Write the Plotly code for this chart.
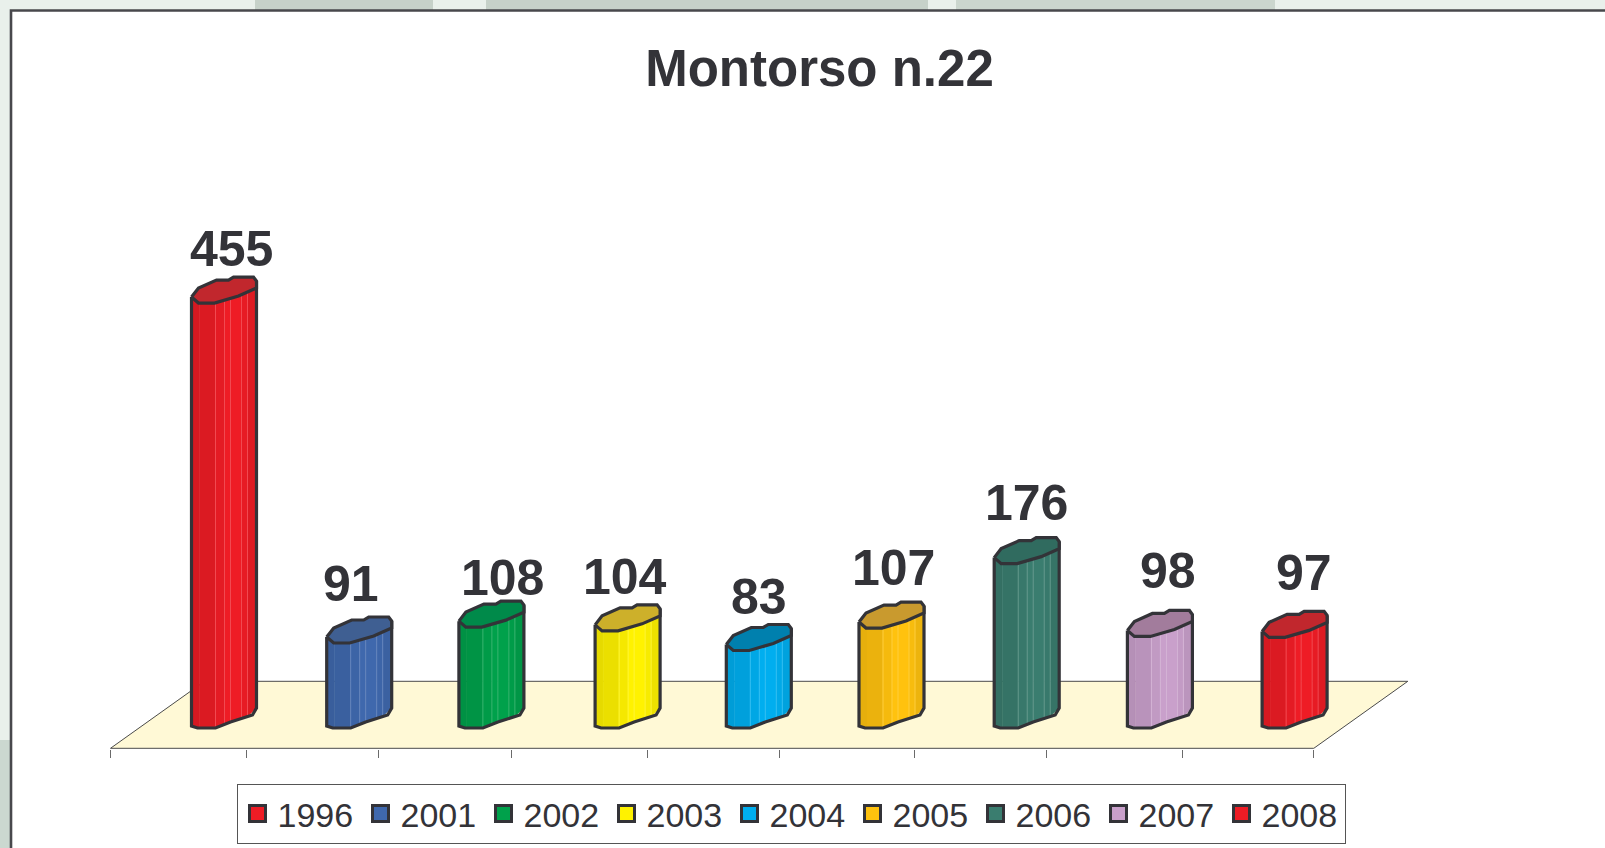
import numpy as np
import plotly.graph_objects as go

# ---- data ----
years = ["1996", "2001", "2002", "2003", "2004", "2005", "2006", "2007", "2008"]
values = [455, 91, 108, 104, 83, 107, 176, 98, 97]
side_colors = ["#ee1c25", "#3f68ad", "#00a14b", "#fff200", "#00aeef", "#ffc20e", "#3a7d6f", "#c9a0cb", "#ee1c25"]
top_colors = ["#c1272d", "#3f5f92", "#008a4a", "#cdb02a", "#0080ae", "#c99a2e", "#306b5f", "#a27c9c", "#c1272d"]
title_text = "Montorso n.22"

# ---- layout constants ----
W, H = 1605, 848
INK = "#333338"
PLOT_L, PLOT_R, PLOT_T, PLOT_B = 11, 1605, 10, 749
PX_X = 133.7          # pixels per category
PX_Y = 0.934          # pixels per value unit
TICK0 = 110.5         # pixel of the first category boundary
BASE = 728            # pixel of value 0
x_range = [(PLOT_L - TICK0) / PX_X, (PLOT_R - TICK0) / PX_X]
y_range = [(BASE - PLOT_B) / PX_Y, (BASE - PLOT_T) / PX_Y]

BAR_LEFT = 81 / PX_X  # bar left edge inside its category
BAR_NUDGE = [0, 1.5, 0, 2.5, 0, -1, 0.5, 0, 1]      # pixel snapping of the original
TICK_NUDGE = [0, 2.5, 1, -0.5, 2, 0.5, 2, 0.5, 2.5, 0]


def dx(px):
    return px / PX_X


def dy(px):
    return px / PX_Y


# cross-section of the cylinder, as pixel offsets from left edge / lowest front point
TOP_SHAPE = [(0, -6), (7, -15), (25, -23), (37, -23), (42, -26), (62, -26), (65, -22),
             (65, -15), (47, -7), (23, 0), (7, 0), (0, -6)]
BOTTOM_X = [0, 6, 24, 39, 61, 65]
BOTTOM_Y = [-2, 0, 0, -6, -13, -20]
LOWER_TOP_X = [0, 7, 23, 47, 65]
LOWER_TOP_Y = [-6, 0, 0, -7, -15]
STRIP_EDGES = [0, 8, 24, 33, 39, 50, 56, 65]
STRIP_SHADE = [0.90, 0.92, 0.96, 1.0, 1.0, 0.97, 0.93]
HIGHLIGHTS = [24, 33, 39, 50, 56]


def shade(hex_color, f):
    rgb = [int(hex_color[k:k + 2], 16) for k in (1, 3, 5)]
    return "rgb(%d,%d,%d)" % tuple(int(round(c * f)) for c in rgb)


def tint(hex_color, f):
    rgb = [int(hex_color[k:k + 2], 16) for k in (1, 3, 5)]
    return "rgb(%d,%d,%d)" % tuple(int(round(c + (255 - c) * f)) for c in rgb)


fig = go.Figure()

# floor of the 3D chart
FLOOR_FRONT = (BASE - 748.3) / PX_Y
FLOOR_BACK = (BASE - 681.3) / PX_Y
SKEW = 94 / PX_X
n = len(years)
fig.add_trace(go.Scatter(
    x=[0, n, n + SKEW, SKEW, 0], y=[FLOOR_FRONT, FLOOR_FRONT, FLOOR_BACK, FLOOR_BACK, FLOOR_FRONT],
    mode="lines", fill="toself", fillcolor="#fff9d6",
    line=dict(color="#4a4a4a", width=1), hoverinfo="skip", showlegend=False))

for i, (year, v, col, topc) in enumerate(zip(years, values, side_colors, top_colors)):
    left = i + BAR_LEFT + dx(BAR_NUDGE[i])
    # shaded body strips
    for a, b, f in zip(STRIP_EDGES[:-1], STRIP_EDGES[1:], STRIP_SHADE):
        xs = [a, b, b, a, a]
        up = [np.interp(a, LOWER_TOP_X, LOWER_TOP_Y), np.interp(b, LOWER_TOP_X, LOWER_TOP_Y)]
        lo = [np.interp(a, BOTTOM_X, BOTTOM_Y), np.interp(b, BOTTOM_X, BOTTOM_Y)]
        fig.add_trace(go.Scatter(
            x=[left + dx(p) for p in xs],
            y=[v + dy(-up[0]), v + dy(-up[1]), dy(-lo[1]), dy(-lo[0]), v + dy(-up[0])],
            mode="lines", fill="toself", fillcolor=shade(col, f),
            line=dict(color=shade(col, f), width=0.5), hoverinfo="skip", showlegend=False))
    # thin light lines on the body
    for h in HIGHLIGHTS:
        fig.add_trace(go.Scatter(
            x=[left + dx(h)] * 2,
            y=[v + dy(-np.interp(h, LOWER_TOP_X, LOWER_TOP_Y)), dy(-np.interp(h, BOTTOM_X, BOTTOM_Y))],
            mode="lines", line=dict(color=tint(col, 0.2), width=1), hoverinfo="skip", showlegend=False))
    # body outline
    ox = [0, 0] + BOTTOM_X + [65]
    oy = [v + dy(6), dy(2)] + [dy(-b) for b in BOTTOM_Y] + [v + dy(22)]
    fig.add_trace(go.Scatter(
        x=[left + dx(p) for p in ox], y=oy,
        mode="lines", line=dict(color=INK, width=3.2),
        hoverinfo="skip", showlegend=False))
    # top cap
    fig.add_trace(go.Scatter(
        x=[left + dx(p[0]) for p in TOP_SHAPE], y=[v + dy(-p[1]) for p in TOP_SHAPE],
        mode="lines", fill="toself", fillcolor=topc,
        line=dict(color=INK, width=3.2), name=year,
        hovertemplate=year + ": %{text}<extra></extra>", text=[v] * len(TOP_SHAPE), showlegend=False))

# legend entries (square swatches)
for year, col in zip(years, side_colors):
    fig.add_trace(go.Scatter(
        x=[None], y=[None], mode="markers", name=year,
        marker=dict(symbol="square", size=16, color=col, line=dict(color=INK, width=3))))

# value labels, placed as in the reference (hand-dragged)
LABEL_DX = [7, -7, 11, 0, 0, 1, 0, 8, 10]
LABEL_DY = [54, 59, 49, 54, 53, 60, 61, 65, 64]
annotations = [
    dict(x=i + BAR_LEFT + dx(32.5), y=v, xref="x", yref="y", text=str(v), showarrow=False,
         xanchor="center", yanchor="middle", xshift=LABEL_DX[i], yshift=LABEL_DY[i],
         font=dict(family="Liberation Sans", size=50, color=INK, weight="bold"))
    for i, v in enumerate(values)
]

# page background blocks and the white frame (paper coordinates)
pw, ph = PLOT_R - PLOT_L, PLOT_B - PLOT_T


def px_x(p):
    return (p - PLOT_L) / pw


def px_y(p):
    return (PLOT_B - p) / ph


shapes = []
for x0, y0, x1, y1, c in [
    (0, 740, 10, 848, "#cbd8d0"),
    (255, 0, 433, 10, "#c6d1c9"),
    (486, 0, 928, 10, "#c6d1c9"),
    (956, 0, 1275, 10, "#cbd6ce"),
]:
    shapes.append(dict(type="rect", xref="paper", yref="paper", layer="below",
                       x0=px_x(x0), x1=px_x(x1), y0=px_y(y1), y1=px_y(y0),
                       fillcolor=c, line=dict(width=0)))
shapes.append(dict(type="rect", xref="paper", yref="paper", layer="below",
                   x0=px_x(11), x1=px_x(1640), y0=px_y(880), y1=px_y(10.5),
                   fillcolor="white", line=dict(color="#48484c", width=2.6)))

fig.update_layout(
    width=W, height=H,
    margin=dict(l=PLOT_L, r=W - PLOT_R, t=PLOT_T, b=H - PLOT_B, autoexpand=False, pad=0),
    paper_bgcolor="#e9f0eb",
    plot_bgcolor="rgba(0,0,0,0)",
    title=dict(text=title_text, x=819.5 / W, xanchor="center", y=1 - 68.6 / H, yanchor="middle",
               font=dict(family="Liberation Sans", size=51, color=INK, weight="bold")),
    xaxis=dict(range=x_range, tickmode="array",
               tickvals=[k + dx(TICK_NUDGE[k]) for k in range(n + 1)], ticks="outside",
               ticklen=8, tickwidth=1, tickcolor="#6a6a6a", showticklabels=False,
               showgrid=False, zeroline=False, showline=False, fixedrange=True),
    yaxis=dict(range=y_range, showticklabels=False, ticks="", showgrid=False, zeroline=False,
               showline=False, fixedrange=True),
    legend=dict(orientation="h", x=px_x(236.5), y=px_y(784), xanchor="left", yanchor="top",
                bgcolor="white", bordercolor="#555", borderwidth=1,
                font=dict(family="Liberation Sans", size=34, color=INK),
                entrywidth=78, entrywidthmode="pixels", itemwidth=30),
    shapes=shapes,
    annotations=annotations,
    hovermode="closest",
)

fig.write_html("out.html", config=dict(displayModeBar=False),
               post_script="document.body.style.margin='0';document.body.style.overflow='hidden';")
